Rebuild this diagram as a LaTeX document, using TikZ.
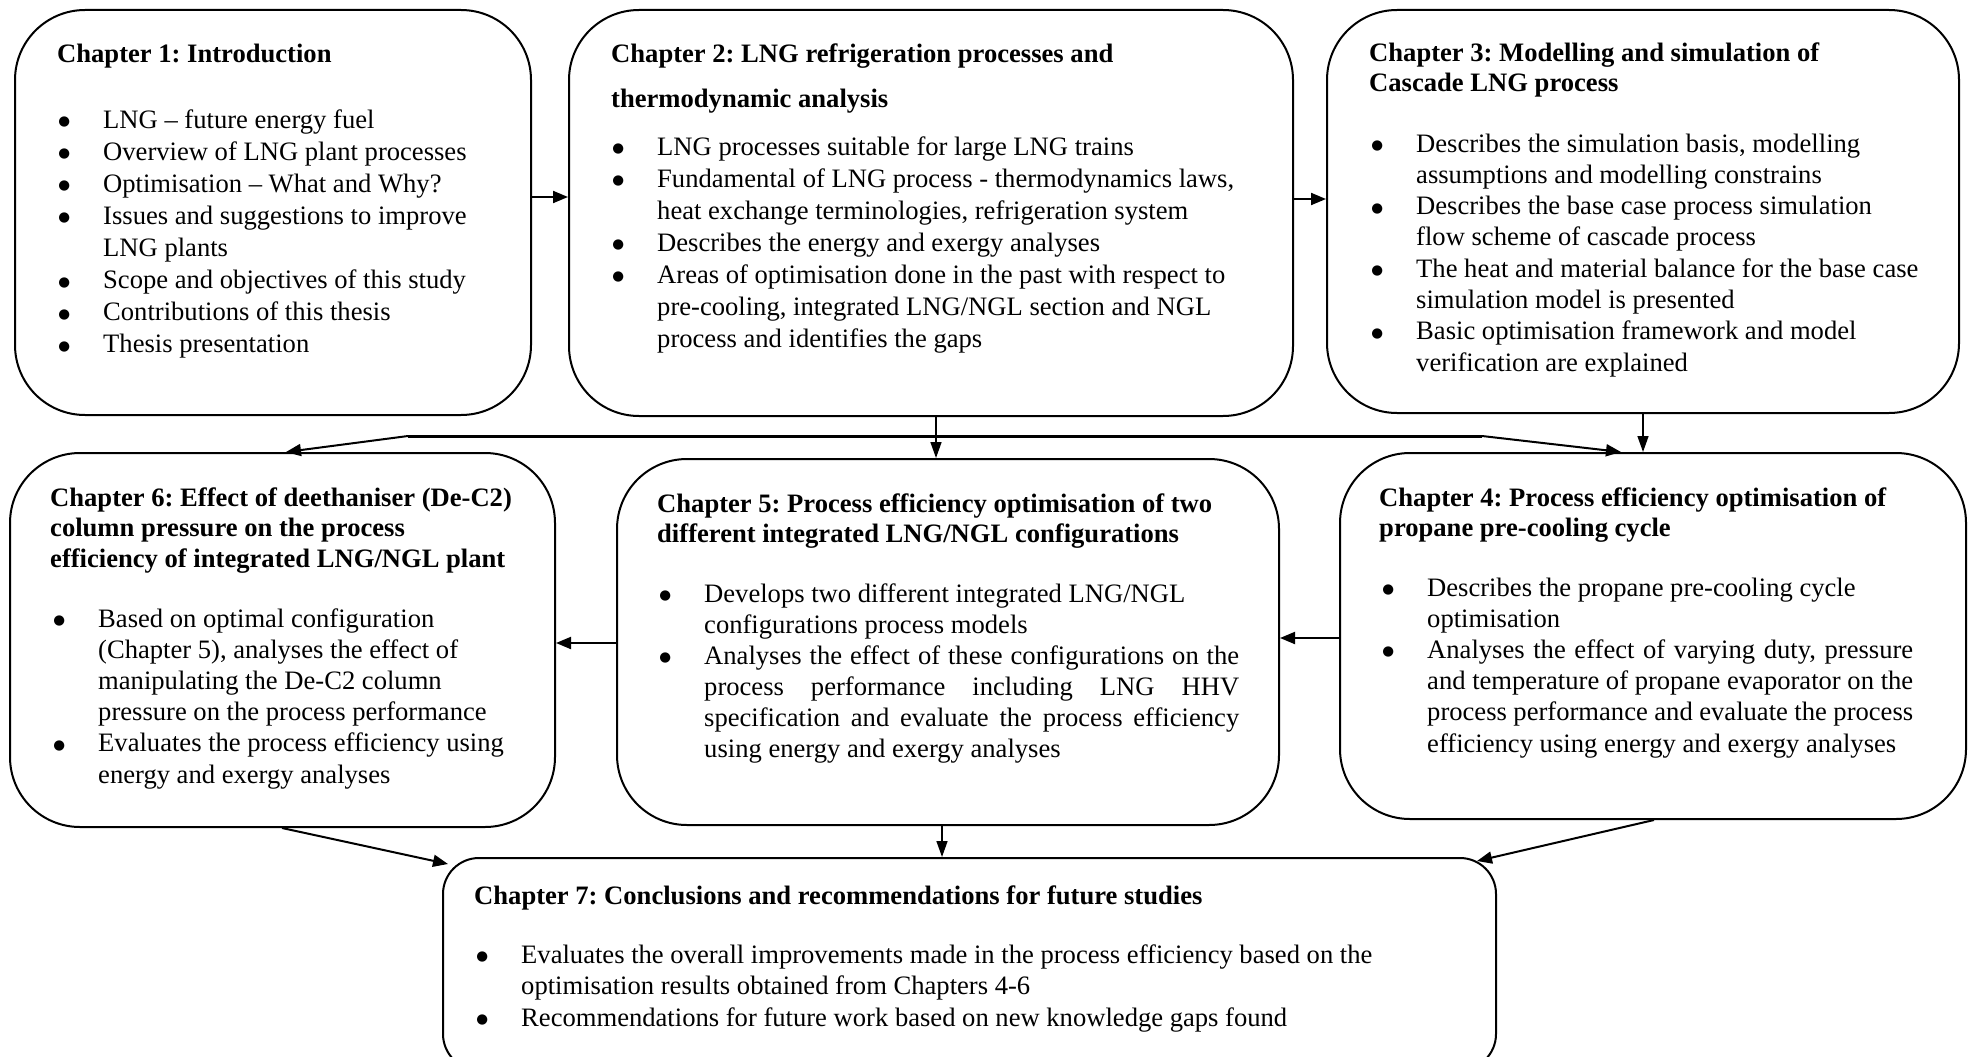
\documentclass[tikz,border=0pt]{standalone}
\usepackage{fontspec}
\setmainfont{Liberation Serif}
\newfontfamily\djv{DejaVu Sans}
\usetikzlibrary{arrows.meta,calc}
\frenchspacing
\newcommand\bl{\makebox[0pt][r]{{\djv\fontsize{13.5}{13.5}\selectfont\raisebox{2.5pt}{●}}\hspace{33pt}}}
\newcommand\js[2]{\makebox[#1pt][s]{#2}}
\newcommand\fs[1]{\fontsize{26.6}{#1}\selectfont}
\begin{document}
\begin{tikzpicture}[x=1pt,y=-1pt,
  box/.style={draw,line width=2pt,rounded corners=70pt,inner sep=0pt},
  ttl/.style={anchor=base west,inner sep=0pt,font=\fs{30}\bfseries},
  lst/.style={anchor=base west,inner sep=0pt,font=\fs{32}},
  arr/.style={line width=2pt,-{Triangle[length=15pt,width=12pt]}},
  arrthin/.style={line width=1.5pt,-{Triangle[length=16pt,width=11pt]}},
  split/.style={line width=3pt}]
\useasboundingbox (0,0) rectangle (1970,1057);
\fill[white] (0,0) rectangle (1970,1057);
\clip (0,0) rectangle (1970,1057);

% boxes
\node[box,minimum width=516pt,minimum height=405pt] (b1) at (273,212.5) {};
\node[box,minimum width=724pt,minimum height=406pt] (b2) at (931,213) {};
\node[box,minimum width=632pt,minimum height=403pt] (b3) at (1643,211.5) {};
\node[box,minimum width=545pt,minimum height=374pt] (b6) at (282.5,640) {};
\node[box,minimum width=662pt,minimum height=366pt] (b5) at (948,642) {};
\node[box,minimum width=626pt,minimum height=366pt] (b4) at (1653,636) {};
\node[box,rounded corners=36pt,minimum width=1053pt,minimum height=212pt] (b7) at (969.5,964) {};

% box 1
\node[ttl] (t1) at (57,63) {Chapter 1: Introduction};
\node[lst,font=\fs{32.1}] (l1) at (103,128) {\begin{tabular}[t]{@{}l@{}}
\bl LNG – future energy fuel\\
\bl Overview of LNG plant processes\\
\bl Optimisation – What and Why?\\
\bl Issues and suggestions to improve\\
LNG plants\\
\bl Scope and objectives of this study\\
\bl Contributions of this thesis\\
\bl Thesis presentation
\end{tabular}};

% box 2
\node[ttl,font=\fs{45}\bfseries] (t2) at (611,63) {\begin{tabular}[t]{@{}l@{}}
Chapter 2: LNG refrigeration processes and\\
thermodynamic analysis
\end{tabular}};
\node[lst,font=\fs{32}] (l2) at (657,155) {\begin{tabular}[t]{@{}l@{}}
\bl LNG processes suitable for large LNG trains\\
\bl Fundamental of LNG process - thermodynamics laws,\\
heat exchange terminologies, refrigeration system\\
\bl Describes the energy and exergy analyses\\
\bl Areas of optimisation done in the past with respect to\\
pre-cooling, integrated LNG/NGL section and NGL\\
process and identifies the gaps
\end{tabular}};

% box 3
\node[ttl] (t3) at (1369,62) {\begin{tabular}[t]{@{}l@{}}
Chapter 3: Modelling and simulation of\\
Cascade LNG process
\end{tabular}};
\node[lst,font=\fs{31.3}] (l3) at (1416,152) {\begin{tabular}[t]{@{}l@{}}
\bl Describes the simulation basis, modelling\\
assumptions and modelling constrains\\
\bl Describes the base case process simulation\\
flow scheme of cascade process\\
\bl The heat and material balance for the base case\\
simulation model is presented\\
\bl Basic optimisation framework and model\\
verification are explained
\end{tabular}};

% box 6
\node[ttl,font=\fs{30.5}\bfseries] (t6) at (50,506) {\begin{tabular}[t]{@{}l@{}}
Chapter 6: Effect of deethaniser (De-C2)\\
column pressure on the process\\
efficiency of integrated LNG/NGL plant
\end{tabular}};
\node[lst,font=\fs{31.2}] (l6) at (98,627) {\begin{tabular}[t]{@{}l@{}}
\bl Based on optimal configuration\\
(Chapter 5), analyses the effect of\\
manipulating the De-C2 column\\
pressure on the process performance\\
\bl Evaluates the process efficiency using\\
energy and exergy analyses
\end{tabular}};

% box 5
\node[ttl] (t5) at (657,512) {\begin{tabular}[t]{@{}l@{}}
Chapter 5: Process efficiency optimisation of two\\
different integrated LNG/NGL configurations
\end{tabular}};
\node[lst,font=\fs{31.1}] (l5) at (704,602) {\begin{tabular}[t]{@{}l@{}}
\bl Develops two different integrated LNG/NGL\\
configurations process models\\
\bl \js{535}{Analyses the effect of these configurations on the}\\
\js{535}{process performance including LNG HHV}\\
\js{535}{specification and evaluate the process efficiency}\\
using energy and exergy analyses
\end{tabular}};

% box 4
\node[ttl] (t4) at (1379,506) {\begin{tabular}[t]{@{}l@{}}
Chapter 4: Process efficiency optimisation of\\
propane pre-cooling cycle
\end{tabular}};
\node[lst,font=\fs{31.2}] (l4) at (1427,596) {\begin{tabular}[t]{@{}l@{}}
\bl Describes the propane pre-cooling cycle\\
optimisation\\
\bl \js{486}{Analyses the effect of varying duty, pressure}\\
\js{486}{and temperature of propane evaporator on the}\\
\js{486}{process performance and evaluate the process}\\
efficiency using energy and exergy analyses
\end{tabular}};

% box 7
\node[ttl] (t7) at (474,904) {Chapter 7: Conclusions and recommendations for future studies};
\node[lst,font=\fs{31.5}] (l7) at (521,963) {\begin{tabular}[t]{@{}l@{}}
\bl Evaluates the overall improvements made in the process efficiency based on the\\
optimisation results obtained from Chapters 4-6\\
\bl Recommendations for future work based on new knowledge gaps found
\end{tabular}};

% helper coordinates
\coordinate (h12) at (0,197);
\coordinate (h23) at (0,199);
\coordinate (h45) at (0,638);
\coordinate (h56) at (0,643);
\coordinate (v25) at (936,0);
\coordinate (vl) at (286,0);
\coordinate (vr) at (1621,0);
\coordinate (v6) at (282,0);
\coordinate (v57) at (942,0);
\coordinate (v4) at (1654,0);
\coordinate (jl) at (408,436);
\coordinate (jr) at (1482,436);

% connectors
\draw[arr] (b1.east |- h12) -- (b2.west |- h12);
\draw[arr] (b2.east |- h23) -- (b3.west |- h23);
\draw[arr] (b4.west |- h45) -- (b5.east |- h45);
\draw[arr] (b5.west |- h56) -- (b6.east |- h56);
\draw[arrthin] (b2.south -| v25) -- (b5.north -| v25);
\draw[arrthin] (b3.south) -- (b4.north -| b3.south);
\draw[split] (jl) -- (jr);
\draw[arr] (jl) -- (b6.north -| vl);
\draw[arr] (jr) -- (b4.north -| vr);
\draw[arr] (b6.south -| v6) -- ($(b7.north west)+(6,7)$);
\draw[arrthin] (b5.south -| v57) -- (b7.north -| v57);
\draw[arr] (b4.south -| v4) -- ($(b7.north east)+(-20,4)$);
\end{tikzpicture}
\end{document}
